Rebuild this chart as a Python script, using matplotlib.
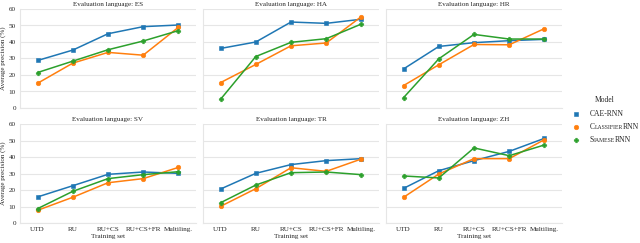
import matplotlib
matplotlib.use("Agg")
import matplotlib.pyplot as plt
import seaborn as sns
from matplotlib.lines import Line2D
from matplotlib.offsetbox import TextArea, HPacker, VPacker, DrawingArea, AnchoredOffsetbox

training_sets = ["UTD", "RU", "RU+CS", "RU+CS+FR", "Multiling."]
languages = ["ES", "HA", "HR", "SV", "TR", "ZH"]
models = ["CAE-RNN", "ClassifierRNN", "SiameseRNN"]

cae_rnn = {
    "ES": [28.8, 35.1, 45.0, 49.3, 50.3],
    "HA": [36.1, 40.0, 52.1, 51.3, 53.8],
    "HR": [23.7, 37.3, 39.6, 40.8, 41.6],
    "SV": [15.8, 22.6, 29.5, 30.9, 30.1],
    "TR": [20.6, 30.1, 35.4, 37.8, 39.0],
    "ZH": [21.0, 31.7, 37.8, 43.4, 51.3],
}
classifier_rnn = {
    "ES": [15.0, 27.2, 33.7, 32.0, 48.9],
    "HA": [15.4, 26.4, 37.7, 39.4, 55.4],
    "HR": [13.6, 26.2, 38.5, 38.3, 48.1],
    "SV": [7.7, 15.6, 24.4, 26.9, 33.7],
    "TR": [10.1, 20.8, 33.5, 31.3, 38.8],
    "ZH": [15.6, 29.7, 39.0, 39.0, 50.5],
}
siamese_rnn = {
    "ES": [21.5, 28.4, 35.3, 40.6, 46.9],
    "HA": [5.3, 31.2, 39.8, 42.0, 50.9],
    "HR": [6.3, 29.8, 44.6, 41.8, 41.8],
    "SV": [8.7, 19.2, 26.9, 29.3, 31.1],
    "TR": [12.3, 23.0, 30.5, 30.9, 29.3],
    "ZH": [28.5, 27.3, 45.5, 40.8, 47.3],
}

series = [cae_rnn, classifier_rnn, siamese_rnn]
colors = ["#1f77b4", "#ff7f0e", "#2ca02c"]
markers = ["s", "o", "P"]

sns.set_style("whitegrid")
plt.rcParams["font.family"] = ["Liberation Serif", "DejaVu Serif"]
FS = 5.1
LFS = 5.5
TXT = "#262626"


def smallcaps(label, size):
    """fake small caps: lowercase letters drawn as smaller capitals"""
    runs = []
    for ch in label:
        low = ch.islower()
        if runs and runs[-1][1] == low:
            runs[-1][0] += ch
        else:
            runs.append([ch, low])
    parts = [TextArea(r.upper() if low else r,
                      textprops=dict(size=size * 0.75 if low else size, color=TXT))
             for r, low in runs]
    return HPacker(children=parts, align="baseline", pad=0, sep=0)


fig = plt.figure(figsize=(6.4, 2.43), dpi=100)
W, H = 640.0, 243.0
lefts = [20, 203, 386]
tops = [9, 124]
aw, ah = 176, 99

axes = []
for i, lang in enumerate(languages):
    r, c = divmod(i, 3)
    ax = fig.add_axes([lefts[c] / W, 1 - (tops[r] + ah) / H, aw / W, ah / H])
    x = list(range(len(training_sets)))
    for s, col, mk in zip(series, colors, markers):
        ax.plot(x, s[lang], color=col, marker=mk, markersize=3.3, lw=1.1,
                markeredgewidth=0.4, markeredgecolor=col)
    ax.set_xlim(-0.5, 4.5)
    ax.set_ylim(0, 60)
    ax.set_yticks(range(0, 61, 10))
    ax.set_xticks(x)
    ax.grid(axis="x", visible=False)
    ax.grid(axis="y", color="#e6e6e6", lw=0.8)
    for sp in ["top", "right"]:
        ax.spines[sp].set_visible(False)
    for sp in ["left", "bottom"]:
        ax.spines[sp].set_color("#e6e6e6")
        ax.spines[sp].set_linewidth(0.8)
    ax.tick_params(length=0, pad=3, labelsize=FS, labelcolor=TXT)
    ax.set_title(f"Evaluation language: {lang}", fontsize=FS, color=TXT, pad=2.5)
    if c == 0:
        ax.set_ylabel("Average precision (%)", fontsize=FS, color=TXT, labelpad=2)
    else:
        ax.set_yticklabels([])
    if r == 1:
        ax.set_xticklabels(training_sets)
        ax.set_xlabel("Training set", fontsize=FS, color=TXT, labelpad=1.5)
    else:
        ax.set_xticklabels([])
    axes.append(ax)

# legend built by hand so the small caps labels can be mimicked
rows = []
for name, col, mk in zip(models, colors, markers):
    da = DrawingArea(8, 6, 0, 0)
    da.add_artist(Line2D([4], [3], marker=mk, color=col, markersize=3.3, lw=0,
                         markeredgewidth=0.4))
    rows.append(HPacker(children=[da, smallcaps(name, LFS)], align="center", pad=0, sep=6))
title = TextArea("Model", textprops=dict(size=LFS, color=TXT))
body = VPacker(children=rows, align="left", pad=0, sep=3.2)
box = VPacker(children=[title, body], align="center", pad=0, sep=4)
anch = AnchoredOffsetbox(loc="center left", child=box, pad=0, borderpad=0, frameon=False,
                         bbox_to_anchor=(570 / W, 1 - 120 / H), bbox_transform=fig.transFigure)
fig.add_artist(anch)

fig.savefig("out.png", dpi=100)
